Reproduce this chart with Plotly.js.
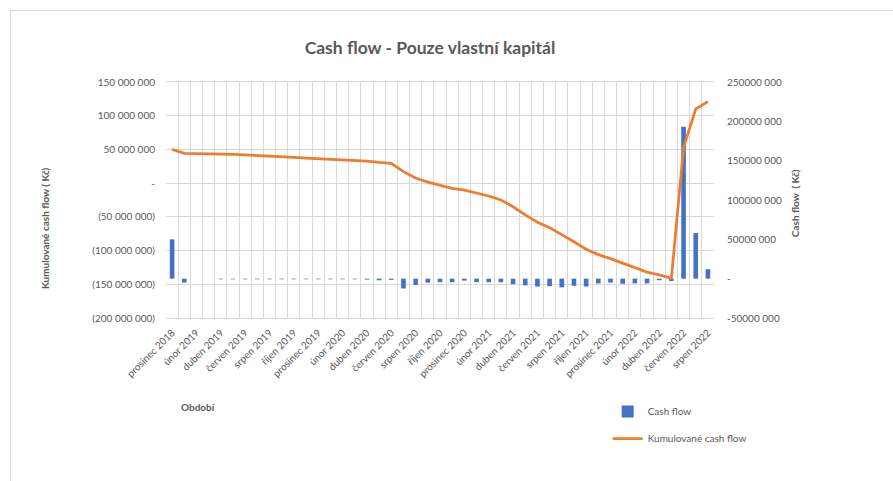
<!DOCTYPE html>
<html>
<head>
<meta charset="utf-8">
<script src="https://cdn.plot.ly/plotly-3.0.1.min.js"></script>
<style>
  html, body { margin: 0; padding: 0; background: #fff; }
  #chart { width: 893px; height: 481px; }
  #frame { position: absolute; left: 10px; top: 10px; width: 900px; height: 500px;
           border-left: 1px solid #D9D9D9; border-top: 1px solid #D9D9D9; pointer-events: none; }
</style>
</head>
<body>
<div id="chart"></div>
<div id="frame"></div>
<script>
const categories = [
  "prosinec 2018",
  "leden 2019", "únor 2019", "březen 2019", "duben 2019", "květen 2019", "červen 2019",
  "červenec 2019", "srpen 2019", "září 2019", "říjen 2019", "listopad 2019", "prosinec 2019",
  "leden 2020", "únor 2020", "březen 2020", "duben 2020", "květen 2020", "červen 2020",
  "červenec 2020", "srpen 2020", "září 2020", "říjen 2020", "listopad 2020", "prosinec 2020",
  "leden 2021", "únor 2021", "březen 2021", "duben 2021", "květen 2021", "červen 2021",
  "červenec 2021", "srpen 2021", "září 2021", "říjen 2021", "listopad 2021", "prosinec 2021",
  "leden 2022", "únor 2022", "březen 2022", "duben 2022", "květen 2022", "červen 2022",
  "červenec 2022", "srpen 2022"
];

const cashFlow = [
  50000000,
  -5000000, 0, 0, -800000, -800000, -800000,
  -800000, -800000, -800000, -800000, -800000, -800000,
  -800000, -800000, -800000, -1200000, -2000000, -1500000,
  -12500000, -8000000, -5000000, -4500000, -4500000, -2500000,
  -4500000, -4500000, -4500000, -7000000, -8500000, -10000000,
  -9500000, -11000000, -9000000, -10000000, -6000000, -5000000,
  -6500000, -6000000, -6000000, -2000000, -3000000, 193000000,
  58000000, 12000000
];

const cumulativeCashFlow = [
  50000000,
  44200000, 43900000, 43700000, 43200000, 42700000, 41900000,
  41200000, 40200000, 39200000, 38200000, 37200000, 36200000,
  35500000, 34800000, 34000000, 32800000, 30800000, 29300000,
  17000000, 7500000, 1500000, -3500000, -7800000, -10500000,
  -14500000, -19000000, -25000000, -35000000, -47000000, -58000000,
  -66000000, -76000000, -87000000, -98000000, -106000000, -112000000,
  -119000000, -126000000, -132000000, -136000000, -141000000, 53000000,
  110000000, 121000000
];

const leftTickVals = [150000000, 100000000, 50000000, 0, -50000000, -100000000, -150000000, -200000000];
const leftTickText = ["150 000 000", "100 000 000", "50 000 000", "-", "(50 000 000)", "(100 000 000)", "(150 000 000)", "(200 000 000)"];
const rightTickVals = [250000000, 200000000, 150000000, 100000000, 50000000, 0, -50000000];
const rightTickText = ["250000 000", "200000 000", "150000 000", "100000 000", "50000 000", "-", "-50000 000"];

const xTickText = categories.map((c, i) => (i % 2 === 0 ? c : ""));

const txt = "#595959";
const grid = "#D9D9D9";
const fontFam = "Lato, 'Open Sans', sans-serif";

const traces = [
  {
    type: "bar",
    name: "Cash flow",
    x: categories,
    y: cashFlow,
    yaxis: "y",
    marker: { color: "#4472C4" },
    legendgroup: "a"
  },
  {
    type: "scatter",
    mode: "lines",
    name: "Kumulované cash flow",
    x: categories,
    y: cumulativeCashFlow,
    yaxis: "y2",
    line: { color: "#ED7D31", width: 2.75 },
    legendgroup: "b"
  }
];

const layout = {
  width: 893,
  height: 481,
  margin: { l: 166, r: 179, t: 82, b: 163 },
  paper_bgcolor: "rgba(0,0,0,0)",
  plot_bgcolor: "#fff",
  font: { family: fontFam, color: txt, size: 10 },
  title: {
    text: "<b>Cash flow - Pouze vlastní kapitál</b>",
    font: { size: 17.5, color: txt, family: fontFam },
    x: 0.4815, xanchor: "center",
    y: 0.90, yanchor: "middle"
  },
  bargap: 0.62,
  xaxis: {
    type: "category",
    tickmode: "array",
    tickvals: categories,
    ticktext: xTickText,
    tickson: "boundaries",
    tickangle: -45,
    ticks: "",
    showgrid: true,
    gridcolor: grid,
    gridwidth: 1,
    showline: true,
    linecolor: grid,
    mirror: true,
    tickfont: { size: 10, color: txt, family: fontFam },
    ticklabelstandoff: 4,
    range: [-0.5, 44.5]
  },
  yaxis: {
    side: "right",
    range: [-50000000, 250000000],
    tickmode: "array",
    tickvals: rightTickVals,
    ticktext: rightTickText,
    showgrid: false,
    zeroline: false,
    ticks: "",
    tickfont: { size: 10, color: txt, family: fontFam },
    ticklabelstandoff: 12
  },
  yaxis2: {
    side: "left",
    overlaying: "y",
    range: [-200000000, 150000000],
    tickmode: "array",
    tickvals: leftTickVals,
    ticktext: leftTickText,
    showgrid: true,
    gridcolor: grid,
    zeroline: false,
    ticks: "",
    tickfont: { size: 10, color: txt, family: fontFam },
    ticklabelstandoff: 10
  },
  showlegend: true,
  legend: {
    x: 0.806, xanchor: "left",
    y: -0.335, yanchor: "top",
    traceorder: "grouped",
    tracegroupgap: 8,
    font: { size: 10, color: txt, family: fontFam },
    itemwidth: 30,
    bgcolor: "rgba(0,0,0,0)"
  },
  annotations: [
    {
      text: "<b>Kumulované cash flow ( Kč)</b>",
      xref: "paper", yref: "paper",
      x: -0.2208, y: 0.381,
      xanchor: "center", yanchor: "middle",
      textangle: -90, showarrow: false,
      font: { size: 10, color: txt, family: fontFam }
    },
    {
      text: "<b>Cash flow  ( Kč)</b>",
      xref: "paper", yref: "paper",
      x: 1.148, y: 0.487,
      xanchor: "center", yanchor: "middle",
      textangle: -90, showarrow: false,
      font: { size: 10, color: txt, family: fontFam }
    },
    {
      text: "<b>Období</b>",
      xref: "paper", yref: "paper",
      x: 0.060, y: -0.377,
      xanchor: "center", yanchor: "middle",
      showarrow: false,
      font: { size: 10, color: txt, family: fontFam }
    }
  ]
};

Plotly.newPlot("chart", traces, layout, { displayModeBar: false, staticPlot: true });
</script>
</body>
</html>
